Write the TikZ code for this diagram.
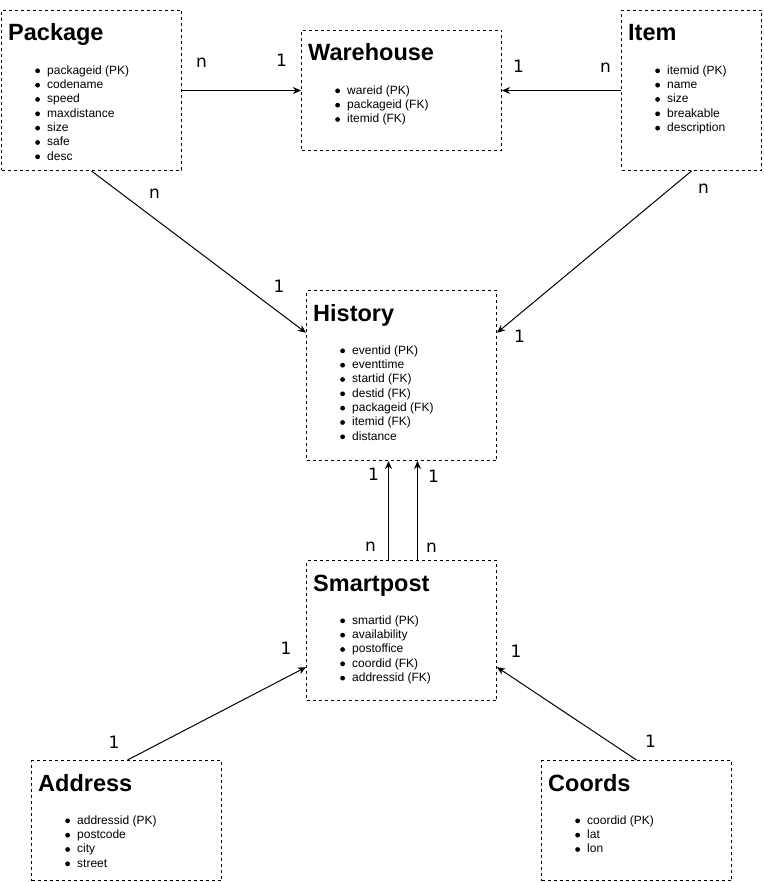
\documentclass[tikz,border=0pt]{standalone}
\usepackage{fontspec}
\setmainfont{Liberation Sans}
\newfontfamily\labelfont{DejaVu Sans}
\usetikzlibrary{calc,arrows.meta}

\tikzset{
  entbox/.style={draw, line width=1pt, dash pattern=on 3pt off 3pt, inner sep=0pt, anchor=north west},
  enttitle/.style={inner sep=0pt, anchor=base west, font=\fontsize{23.5}{27}\selectfont\bfseries},
  entfields/.style={inner sep=0pt, anchor=north west, font=\fontsize{12}{14.33}\selectfont},
  rel/.style={draw, line width=1pt, -{Stealth[length=8pt,width=7pt,inset=2.5pt]}},
  card/.style={inner sep=0pt, font=\labelfont\fontsize{17}{20}\selectfont},
}

% one bulleted attribute line of an entity
\newcommand\fld[1]{\makebox[12pt][l]{\tikz[baseline=-3.4pt]\fill (2.6pt,0pt) circle[radius=2.4pt];}#1}
\newcommand\fieldrows[1]{\begin{tabular}{@{}l@{}}#1\end{tabular}}

% entity: name, left, top, width, height, title, attribute rows
\newcommand\entity[7]{%
  \node[entbox, minimum width=#4pt, minimum height=#5pt] (#1) at (#2,#3) {};
  \node[enttitle] (#1-title) at ($(#1.north west)+(7,31)$) {#6};
  \node[entfields] (#1-fields) at ($(#1.north west)+(34,54)$) {\fieldrows{#7}};
}

\begin{document}
\begin{tikzpicture}[x=1pt, y=-1pt]
  \useasboundingbox[fill=white] (0,0) rectangle (763,882);

  \entity{package}{1}{10}{180}{160}{Package}{%
    \fld{packageid (PK)}\\ \fld{codename}\\ \fld{speed}\\ \fld{maxdistance}\\
    \fld{size}\\ \fld{safe}\\ \fld{desc}}
  \entity{warehouse}{301}{30}{200}{120}{Warehouse}{%
    \fld{wareid (PK)}\\ \fld{packageid (FK)}\\ \fld{itemid (FK)}}
  \entity{item}{621}{10}{140}{160}{Item}{%
    \fld{itemid (PK)}\\ \fld{name}\\ \fld{size}\\ \fld{breakable}\\ \fld{description}}
  \entity{history}{306}{290}{190}{170}{History}{%
    \fld{eventid (PK)}\\ \fld{eventtime}\\ \fld{startid (FK)}\\ \fld{destid (FK)}\\
    \fld{packageid (FK)}\\ \fld{itemid (FK)}\\ \fld{distance}}
  \entity{smartpost}{306}{560}{190}{140}{Smartpost}{%
    \fld{smartid (PK)}\\ \fld{availability}\\ \fld{postoffice}\\ \fld{coordid (FK)}\\
    \fld{addressid (FK)}}
  \entity{address}{31}{760}{190}{120}{Address}{%
    \fld{addressid (PK)}\\ \fld{postcode}\\ \fld{city}\\ \fld{street}}
  \entity{coords}{541}{760}{190}{120}{Coords}{%
    \fld{coordid (PK)}\\ \fld{lat}\\ \fld{lon}}

  % relationships
  \draw[rel] (package.east) -- (warehouse.west);
  \draw[rel] (item.west) -- (warehouse.east);
  \draw[rel] (package.south) -- ($(history.north west)!0.25!(history.south west)$);
  \draw[rel] (item.south) -- ($(history.north east)!0.25!(history.south east)$);
  \draw[rel] ($(smartpost.north)+(-13,0)$) -- ($(history.south)+(-13,0)$);
  \draw[rel] ($(smartpost.north)+(16,0)$) -- ($(history.south)+(16,0)$);
  \draw[rel] ($(address.north)+(1,0)$) -- ($(smartpost.north west)!0.76!(smartpost.south west)$);
  \draw[rel] (coords.north) -- ($(smartpost.north east)!0.76!(smartpost.south east)$);

  % cardinalities
  \node[card] (pw-n) at (201.5,62.5) {n};
  \node[card] (pw-1) at (281.5,60) {1};
  \node[card] (iw-1) at (518.5,66.5) {1};
  \node[card] (iw-n) at (605.5,68) {n};
  \node[card] (ph-n) at (154.5,193.5) {n};
  \node[card] (ph-1) at (279,286) {1};
  \node[card] (ih-n) at (703.5,188.5) {n};
  \node[card] (ih-1) at (519.5,336) {1};
  \node[card] (sh-1a) at (373.5,474.5) {1};
  \node[card] (sh-1b) at (433.5,476.5) {1};
  \node[card] (sh-na) at (370.5,547) {n};
  \node[card] (sh-nb) at (431.5,548) {n};
  \node[card] (as-1a) at (114,742) {1};
  \node[card] (as-1b) at (286,648) {1};
  \node[card] (cs-1a) at (650.5,741) {1};
  \node[card] (cs-1b) at (516,651) {1};
\end{tikzpicture}
\end{document}
